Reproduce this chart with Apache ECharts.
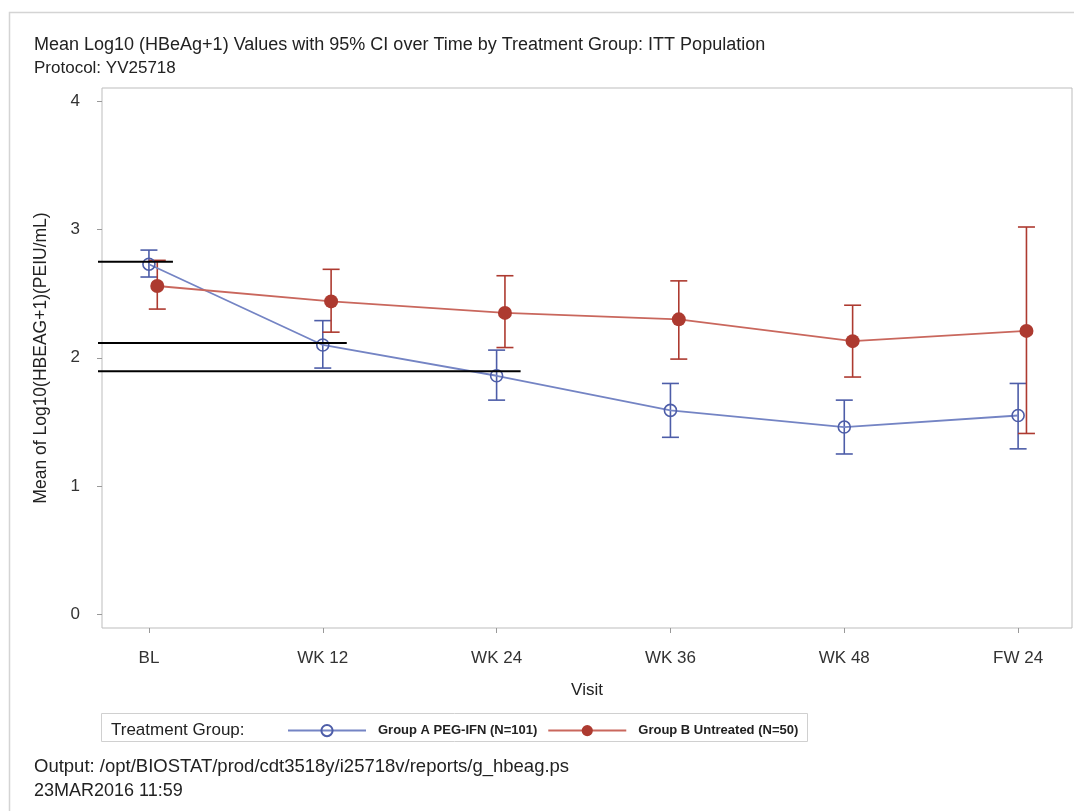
<!DOCTYPE html>
<html>
<head>
<meta charset="utf-8">
<script src="https://cdn.jsdelivr.net/npm/echarts@6/dist/echarts.min.js"></script>
<style>
html,body{margin:0;padding:0;background:#fff;}
#chart{width:1074px;height:811px;}
</style>
</head>
<body>
<div id="chart"></div>
<script>
// ---- data ----
const visits = ['BL', 'WK 12', 'WK 24', 'WK 36', 'WK 48', 'FW 24'];
const yTicks = [0, 1, 2, 3, 4];
const groupAName = 'Group A PEG-IFN (N=101)';
const groupBName = 'Group B Untreated (N=50)';
const groupAMean = [2.73, 2.10, 1.86, 1.59, 1.46, 1.55];
const groupALow  = [2.63, 1.92, 1.67, 1.38, 1.25, 1.29];
const groupAHigh = [2.84, 2.29, 2.06, 1.80, 1.67, 1.80];
const groupBMean = [2.56, 2.44, 2.35, 2.30, 2.13, 2.21];
const groupBLow  = [2.38, 2.20, 2.08, 1.99, 1.85, 1.41];
const groupBHigh = [2.76, 2.69, 2.64, 2.60, 2.41, 3.02];
// annotation reference lines: value and the visit index they reach
const refLineValues = [2.75, 2.115, 1.895];
const refLineVisit  = [0, 1, 2];

// ---- styles / layout ----
const BLUE = '#4d5da8', BLUE_LINE = '#7484c4';
const RED = '#ad3a30', RED_LINE = '#c9675d';
const B_OFFSET = 0.048; // cluster offset of group B (visit units)
const FONT = '"Liberation Sans", Arial, sans-serif';

const chart = echarts.init(document.getElementById('chart'));

function errBarItem(color) {
  return function (params, api) {
    const x = api.value(0), lo = api.value(1), hi = api.value(2);
    const p1 = api.coord([x, hi]), p2 = api.coord([x, lo]);
    const hw = 8.5;
    const st = { stroke: color, lineWidth: 1.6 };
    return { type: 'group', children: [
      { type: 'line', shape: { x1: p1[0], y1: p1[1], x2: p2[0], y2: p2[1] }, style: st },
      { type: 'line', shape: { x1: p1[0] - hw, y1: p1[1], x2: p1[0] + hw, y2: p1[1] }, style: st },
      { type: 'line', shape: { x1: p2[0] - hw, y1: p2[1], x2: p2[0] + hw, y2: p2[1] }, style: st }
    ]};
  };
}

const aLine = groupAMean.map((v, i) => [i, v]);
const bLine = groupBMean.map((v, i) => [i + B_OFFSET, v]);
const aErr = groupAMean.map((v, i) => [i, groupALow[i], groupAHigh[i]]);
const bErr = groupBMean.map((v, i) => [i + B_OFFSET, groupBLow[i], groupBHigh[i]]);
const refData = refLineValues.map((v, i) => [refLineVisit[i], v]);

const option = {
  animation: false,
  backgroundColor: '#fff',
  textStyle: { fontFamily: FONT },
  title: [
    { text: 'Mean Log10 (HBeAg+1) Values with 95% CI over Time by Treatment Group: ITT Population',
      subtext: 'Protocol: YV25718', left: 29, top: 31, itemGap: 6,
      textStyle: { fontSize: 18, fontWeight: 'normal', color: '#222', fontFamily: FONT },
      subtextStyle: { fontSize: 17, color: '#222', fontFamily: FONT } },
    { text: 'Output: /opt/BIOSTAT/prod/cdt3518y/i25718v/reports/g_hbeag.ps',
      subtext: '23MAR2016 11:59', left: 29, top: 752, itemGap: 6,
      textStyle: { fontSize: 18.5, fontWeight: 'normal', color: '#222', fontFamily: FONT },
      subtextStyle: { fontSize: 18, color: '#222', fontFamily: FONT } },
    { text: 'Treatment Group:', left: 106, top: 717,
      textStyle: { fontSize: 17, fontWeight: 'normal', color: '#222', fontFamily: FONT } }
  ],
  graphic: [
    { type: 'rect', left: 7, top: 10, z: -10, silent: true,
      shape: { width: 1100, height: 900 }, style: { fill: 'none', stroke: '#d4d4d4', lineWidth: 1.5 } },
    { type: 'rect', left: 101, top: 713, z: -5, silent: true,
      shape: { width: 706, height: 28 }, style: { fill: '#fff', stroke: '#d0d0d0', lineWidth: 1 } }
  ],
  legend: {
    data: [groupAName, groupBName],
    left: 282, top: 719, itemWidth: 78, itemHeight: 14, itemGap: 10,
    textStyle: { fontSize: 13, fontWeight: 'bold', color: '#222', fontFamily: FONT, padding: [0, 0, 0, 7] }
  },
  grid: { left: 102, top: 88, right: 2, bottom: 183, show: true, borderColor: '#bdbdbd', borderWidth: 1 },
  xAxis: {
    type: 'value', min: -0.27, max: 5.31,
    name: 'Visit', nameLocation: 'middle', nameGap: 54,
    nameTextStyle: { fontSize: 17, color: '#222', fontFamily: FONT },
    axisLine: { show: false, onZero: false },
    splitLine: { show: false },
    axisTick: { show: true, length: 5, customValues: visits.map((v, i) => i), lineStyle: { color: '#999' } },
    axisLabel: { customValues: visits.map((v, i) => i), formatter: v => visits[Math.round(v)],
      fontSize: 17, color: '#333', margin: 22, fontFamily: FONT }
  },
  yAxis: {
    type: 'value', min: -0.107, max: 4.104,
    name: 'Mean of Log10(HBEAG+1)(PEIU/mL)', nameLocation: 'middle', nameGap: 52, nameRotate: 90,
    nameTextStyle: { fontSize: 17.5, color: '#222', fontFamily: FONT },
    axisLine: { show: false, onZero: false },
    splitLine: { show: false },
    axisTick: { show: true, length: 5, customValues: yTicks, lineStyle: { color: '#999' } },
    axisLabel: { customValues: yTicks, fontSize: 17, color: '#333', margin: 22, fontFamily: FONT }
  },
  series: [
    { type: 'custom', name: 'errA', renderItem: errBarItem(BLUE), data: aErr,
      encode: { x: 0, y: [1, 2] }, z: 3, silent: true },
    { type: 'custom', name: 'errB', renderItem: errBarItem(RED), data: bErr,
      encode: { x: 0, y: [1, 2] }, z: 3, silent: true },
    { type: 'line', name: groupAName, data: aLine, symbol: 'circle', symbolSize: 12,
      lineStyle: { color: BLUE_LINE, width: 1.8 },
      itemStyle: { color: 'rgba(255,255,255,0)', borderColor: BLUE, borderWidth: 1.6 }, z: 4 },
    { type: 'line', name: groupBName, data: bLine, symbol: 'circle', symbolSize: 14,
      lineStyle: { color: RED_LINE, width: 1.8 }, itemStyle: { color: RED }, z: 4 },
    { type: 'custom', name: 'ref', data: refData, encode: { x: 0, y: 1 }, clip: false, z: 6, silent: true,
      renderItem: function (params, api) {
        const p = api.coord([api.value(0), api.value(1)]);
        const x0 = params.coordSys.x - 4;
        return { type: 'line', shape: { x1: x0, y1: p[1], x2: p[0] + 24, y2: p[1] },
          style: { stroke: '#000', lineWidth: 2 } };
      } }
  ]
};
chart.setOption(option);
</script>
</body>
</html>
